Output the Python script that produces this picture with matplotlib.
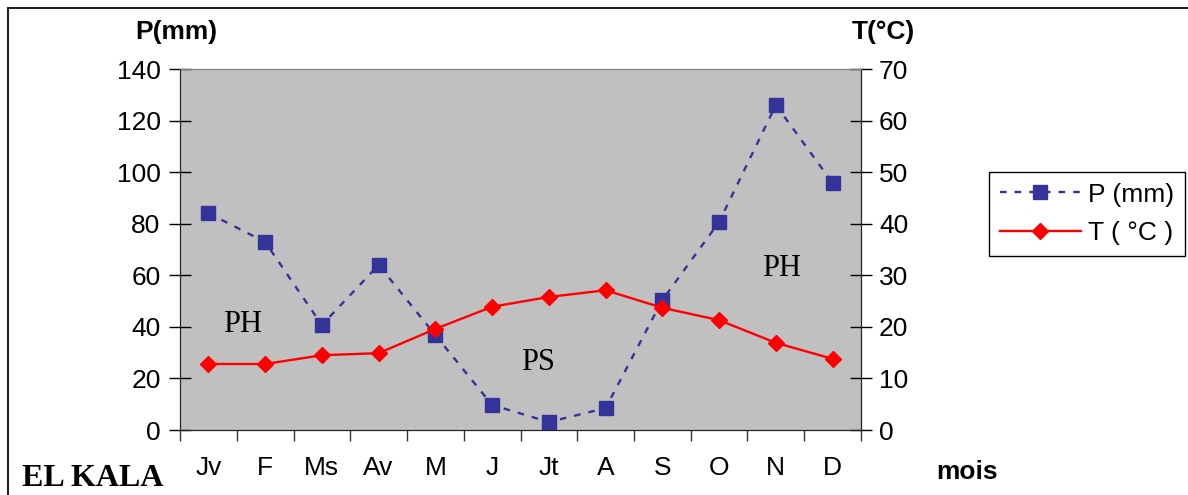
import matplotlib
matplotlib.use("Agg")
import matplotlib.pyplot as plt
from matplotlib.patches import Rectangle
from matplotlib.ticker import FixedLocator, NullFormatter

# El Kala monthly climate data
months = ["Jv", "F", "Ms", "Av", "M", "J", "Jt", "A", "S", "O", "N", "D"]
precip = [84.1, 72.9, 40.7, 64.0, 36.8, 9.7, 3.1, 8.5, 50.4, 80.7, 126.0, 95.8]
temp = [12.8, 12.8, 14.5, 14.9, 19.6, 23.9, 25.8, 27.1, 23.7, 21.3, 16.9, 13.8]

plt.rcParams['font.family'] = ['Liberation Sans', 'DejaVu Sans']

W, H = 1188, 495
fig = plt.figure(figsize=(W / 100, H / 100), dpi=100)

# plot area in pixels: x 180..861, y 69..430
ax = fig.add_axes([180 / W, 1 - 430 / H, (861 - 180) / W, (430 - 69) / H])
ax.set_facecolor("#c0c0c0")
ax2 = ax.twinx()

x = list(range(len(months)))
lp, = ax.plot(x, precip, color="#333399", linestyle=(0, (2.8, 3.4)), linewidth=1.7,
              marker="s", markersize=10.5, markerfacecolor="#333399",
              markeredgecolor="#333399", label="P (mm)", zorder=5)
lt, = ax2.plot(x, temp, color="#ff0000", linewidth=1.7, marker="D", markersize=8,
               markerfacecolor="#ff0000", markeredgecolor="#ff0000", label="T ( °C )", zorder=5)

ax.set_xlim(-0.5, 11.5)
ax.set_ylim(0, 140)
ax2.set_ylim(0, 70)
ax.set_yticks(range(0, 141, 20))
ax2.set_yticks(range(0, 71, 10))

# boundaries get tick marks, centres get the month labels
ax.xaxis.set_major_locator(FixedLocator([i - 0.5 for i in range(13)]))
ax.xaxis.set_major_formatter(NullFormatter())
ax.xaxis.set_minor_locator(FixedLocator(x))
ax.set_xticklabels(months, minor=True)
ax.tick_params(axis="x", which="major", direction="out", length=8, width=1, color="#333333")
ax.tick_params(axis="x", which="minor", length=0, pad=19, labelsize=19)
ax.tick_params(axis="y", direction="inout", length=16, width=1, labelsize=19, pad=6)
ax2.tick_params(axis="y", direction="inout", length=16, width=1, labelsize=19, pad=5)

for a in (ax, ax2):
    a.spines["top"].set_color("#808080")
    a.spines["left"].set_color("#222222")
    a.spines["right"].set_color("#222222")
    a.spines["bottom"].set_color("#222222")

# axis titles and annotations
fig.text(176 / W, 1 - 32 / H, "P(mm)", ha="center", va="center", fontsize=19, fontweight="bold")
fig.text(883 / W, 1 - 32 / H, "T(°C)", ha="center", va="center", fontsize=19, fontweight="bold")
fig.text(967 / W, 1 - 472 / H, "mois", ha="center", va="center", fontsize=19, fontweight="bold")
fig.text(93 / W, 1 - 478 / H, "EL KALA", ha="center", va="center", fontsize=23,
         fontweight="bold", family="Liberation Serif")
fig.text(243 / W, 1 - 325 / H, "PH", ha="center", va="center", fontsize=22, family="Liberation Serif")
fig.text(538 / W, 1 - 362 / H, "PS", ha="center", va="center", fontsize=22, family="Liberation Serif")
fig.text(782 / W, 1 - 268 / H, "PH", ha="center", va="center", fontsize=22, family="Liberation Serif")

leg = fig.legend([lp, lt], ["P (mm)", "T ( °C )"], loc="upper left",
                 bbox_to_anchor=(989 / W, 1 - 172 / H), fontsize=19, handlelength=3.1,
                 handletextpad=0.25, borderpad=0.4, borderaxespad=0, labelspacing=0.55,
                 fancybox=False, edgecolor="black", framealpha=1)
leg.get_frame().set_linewidth(1)

# outer chart frame
fig.patches.append(Rectangle((8 / W, -0.1), 1.2, 1.1 - 8 / H, transform=fig.transFigure,
                             fill=False, edgecolor="#222222", linewidth=1.5))

fig.savefig("out.png", dpi=100)
